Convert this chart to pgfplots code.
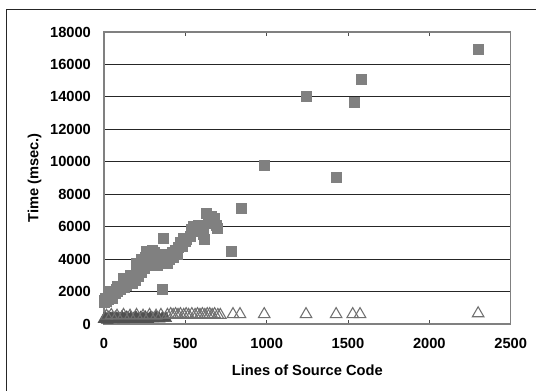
\documentclass[border=0pt]{standalone}
\usepackage{pgfplots}
\pgfplotsset{compat=1.18}
\usepackage{fontspec}
\setmainfont{Liberation Sans}
\definecolor{sq}{HTML}{808080}
\definecolor{tri}{HTML}{707070}
\definecolor{dk}{HTML}{505050}
\begin{document}
\begin{tikzpicture}
\useasboundingbox (0,0) rectangle (402pt,293.25pt);
\draw[line width=1pt, black!85] (4.9pt,0) -- (4.9pt,286.3pt) -- (402pt,286.3pt);
\begin{axis}[
  at={(78pt,50.25pt)}, anchor=south west,
  scale only axis, width=305pt, height=219pt,
  xmin=0, xmax=2500, ymin=0, ymax=18000,
  xtick={0,500,1000,1500,2000,2500},
  ytick={0,2000,4000,6000,8000,10000,12000,14000,16000,18000},
  /pgf/number format/1000 sep={},
  /pgf/number format/assume math mode=true,
  scaled ticks=false,
  tick label style={font=\fontsize{11pt}{13pt}\selectfont\bfseries},
  xticklabel style={yshift=-7pt},
  yticklabel style={xshift=-6.3pt},
  ytick style={draw=none},
  xtick style={black!70, line width=0.6pt},
  major tick length=3pt, tick align=inside,
  axis line style={black!50, line width=0.8pt},
  ymajorgrids, grid style={black!85, line width=0.75pt},
  xlabel={Lines of Source Code},
  ylabel={Time (msec.)},
  label style={font=\fontsize{11pt}{13pt}\selectfont\bfseries},
  xlabel style={at={(axis description cs:0.5,0)}, anchor=base, yshift=-39pt},
  ylabel style={at={(axis description cs:-0.1705,0.5)}, anchor=center},
  clip=false,
]
\addplot[only marks, mark=square*, mark size=3.75pt, mark options={fill=sq, draw=sq, line width=0pt}] coordinates {
(0,1300) (5,1450) (10,1550) (15,1400) (20,1600) (25,1500) (30,1700) (40,1650) (50,1800) (55,1600)
(60,1950) (70,1900) (75,2100) (85,2000) (90,2200) (100,2100) (110,2300) (120,2500) (125,2250) (135,2600)
(140,2400) (150,2700) (160,2600) (170,2800) (175,2500) (185,2900) (195,2700) (200,3100) (210,3300) (215,2900)
(220,3500) (230,3200) (235,3700) (245,3900) (250,3400) (255,4100) (260,3700) (270,4300) (275,3900) (280,4400)
(290,4100) (295,4300) (300,3800) (310,4400) (320,4000) (330,4300) (340,3900) (345,4100) (355,4300) (365,5250)
(357,2100) (370,3800) (380,4100) (390,3700) (400,4000) (410,4200) (420,4400) (430,4100) (440,4500) (450,4300)
(460,4700) (470,5000) (480,4800) (490,5300) (500,5100) (510,5200) (530,5400) (540,5800) (550,6000) (560,5700)
(580,6100) (600,5900) (610,5500) (620,5200) (630,6800) (640,6500) (650,6200) (660,6600) (670,6300) (680,6500)
(690,6100) (700,5900) (785,4450) (843,7100) (984,9770) (1247,14030) (1427,9010) (1538,13660) (1580,15060) (2300,16900)
(230,4000) (260,4450) (300,4550) (330,3600) (280,3600) (200,3700) (160,3000) (120,2800) (80,2300) (30,2000)
};
\addplot[only marks, mark=triangle*, mark size=5pt, mark options={fill=dk, draw=dk, line width=0.5pt}] coordinates {
(0,300) (10,350) (20,250) (30,400) (40,300) (50,350) (60,280) (70,400) (80,320) (90,360)
(100,300) (110,420) (120,280) (130,350) (140,400) (150,300) (165,380) (180,320) (195,420) (210,300)
(225,380) (240,330) (255,400) (270,300) (285,380) (300,340) (320,400) (340,320) (360,380) (380,350)
};
\addplot[only marks, mark=triangle, mark size=5pt, mark options={draw=tri, line width=0.8pt}] coordinates {
(15,500) (45,550) (80,500) (120,550) (160,500) (200,550) (240,500) (280,550) (320,500) (350,550)
(390,550) (410,600) (425,550) (440,600) (455,550) (470,600) (490,550) (505,600) (520,550) (540,600)
(560,550) (575,600) (590,550) (605,600) (620,550) (635,600) (650,600) (665,550) (680,600) (700,550) (715,550)
(793,600) (836,600) (985,600) (1242,600) (1427,600) (1529,600) (1574,600) (2300,650)
};
\end{axis}
\end{tikzpicture}
\end{document}
